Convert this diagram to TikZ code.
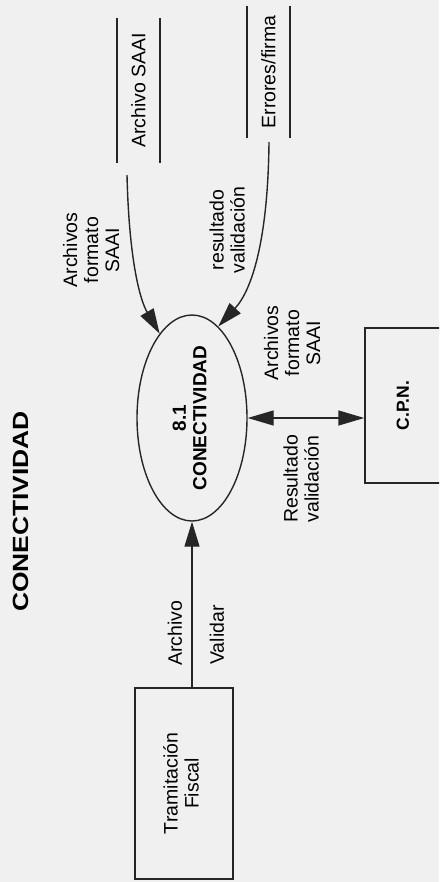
\documentclass[tikz,border=0pt]{standalone}
\usepackage{fontspec}
\setmainfont{Liberation Sans}
\usetikzlibrary{arrows.meta,shapes.geometric}
% vertical (bottom-to-top) text, several centred lines
\newcommand\vlines[1]{\rotatebox{90}{\begin{tabular}{@{}c@{}}#1\end{tabular}}}

\begin{document}
\begin{tikzpicture}[x=1pt,y=-1pt,
  ink/.style={draw=black!85, line width=1.4pt},
  txt/.style={font=\fontsize{19.5}{21}\selectfont, inner sep=0pt},
  boldtxt/.style={font=\bfseries\fontsize{19}{20.5}\selectfont, inner sep=0pt},
  flow/.style={ink, -{Triangle[length=25pt,width=15pt]}},
  dflow/.style={ink, {Triangle[length=26pt,width=15pt]}-{Triangle[length=26pt,width=15pt]}},
  entity/.style={ink, rectangle, inner sep=0pt},
  process/.style={ink, ellipse, inner sep=0pt, minimum width=110pt, minimum height=206pt},
  store/.style={rectangle, inner sep=0pt},
  storeline/.style={draw=black!85, line width=1.6pt}
]
% page and paper tone
\useasboundingbox (0,0) rectangle (439,882);
\clip (0,0) rectangle (439,882);
\fill[black!6] (0,0) rectangle (439,882);

% title
\node[font=\bfseries\fontsize{22}{24}\selectfont, inner sep=0pt] (title) at (20.5,511.5)
  {\rotatebox{90}{\scalebox{1.2}[1]{CONECTIVIDAD}}};

% process
\node[process, boldtxt] (ell) at (192,418) {\vlines{8.1\\CONECTIVIDAD}};

% external entities
\node[entity, txt, minimum width=98pt, minimum height=191pt] (tram) at (184,783.5)
  {\vlines{Tramitación\\Fiscal}};
\node[entity, boldtxt, font=\bfseries\fontsize{17.5}{19}\selectfont,
      minimum width=80pt, minimum height=155pt] (cpn) at (405,405.5)
  {\vlines{C.P.N.}};

% data stores
\node[store, txt, minimum width=43pt, minimum height=145pt] (s1) at (138.5,90.5)
  {\rotatebox{90}{Archivo SAAI}};
\draw[storeline] (s1.north west) -- (s1.south west);
\draw[storeline] (s1.north east) -- (s1.south east);
\node[store, txt, minimum width=43pt, minimum height=132pt] (s2) at (268.5,72)
  {\rotatebox{90}{Errores/firma}};
\draw[storeline] (s2.north west) -- (s2.south west);
\draw[storeline] (s2.north east) -- (s2.south east);

% flows
\coordinate (c1) at (127,175);
\coordinate (c2) at (269,142);
\draw[flow] (c1) .. controls (129,260) and (140,300) .. (ell.111);
\draw[flow] (c2) .. controls (268,240) and (252,290) .. (ell.74);
\draw[dflow] (ell.east) -- (ell.east -| cpn.west);
\draw[flow] (ell.south |- tram.north) -- (ell.south);

% flow labels
\node[txt] (l1) at (94,250) {\vlines{Archivos\\formato\\SAAI}};
\node[txt] (l2) at (230,230) {\vlines{resultado\\validación}};
\node[txt] (l3) at (295,343) {\vlines{Archivos\\formato\\SAAI}};
\node[txt] (l4) at (304,479) {\vlines{Resultado\\validación}};
\node[txt] (l5) at (175,633) {\rotatebox{90}{Archivo}};
\node[txt] (l6) at (217,635) {\rotatebox{90}{Validar}};
\end{tikzpicture}
\end{document}
